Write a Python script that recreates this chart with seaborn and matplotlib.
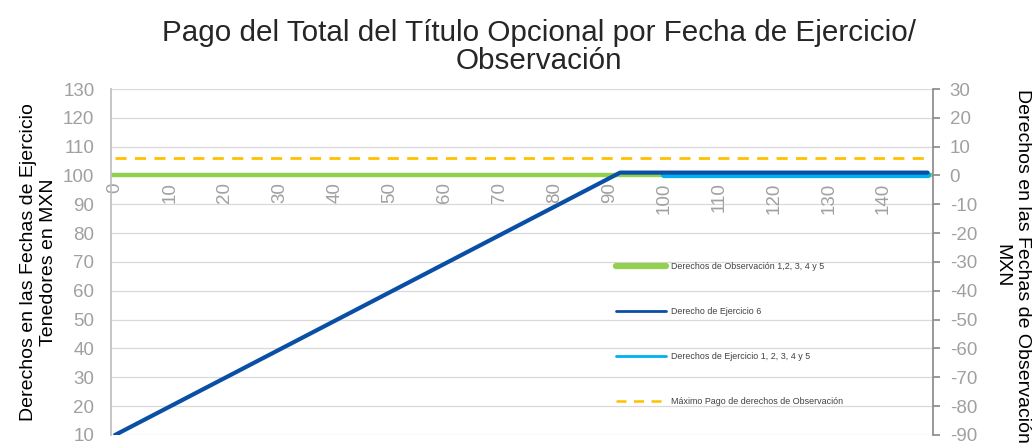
import numpy as np
import pandas as pd
import matplotlib.pyplot as plt
import seaborn as sns

sns.set_theme(style="white")
plt.rcParams['font.family'] = ['Liberation Sans', 'DejaVu Sans']
plt.rcParams['axes.unicode_minus'] = False

# fechas (eje de categorias)
x_ticks = list(range(0, 150, 10))

# Derechos de Observacion 1..5 (eje secundario)
obs_x = [-1, 150]
obs_y = [0, 0]
# Maximo pago de derechos de observacion (eje secundario)
max_x = [0, 148]
max_y = [6, 6]
# Derecho de Ejercicio 6 (eje primario)
ej6_x = [0, 92, 148]
ej6_y = [10, 101, 101]
# Derechos de Ejercicio 1..5 (eje primario)
ej15_x = [100, 148]
ej15_y = [100, 100]

left_ticks = list(range(10, 131, 10))
right_ticks = list(range(-90, 31, 10))

labels = ['Derechos de Observación 1,2, 3, 4 y 5',
          'Derecho de Ejercicio 6',
          'Derechos de Ejercicio 1, 2, 3, 4 y 5',
          'Máximo Pago de derechos de Observación']

green = '#92D050'
dblue = '#0A4FA6'
lblue = '#00B0F0'
orange = '#FFC000'
tick_gray = '#A0A0A0'

fig = plt.figure(figsize=(10.32, 4.45), dpi=100)
ax = fig.add_axes([0.1076, 0.0225, 0.7965, 0.7775])
ax2 = ax.twinx()

# secondary axis lines (drawn below)
sns.lineplot(x=obs_x, y=obs_y, ax=ax2, color=green, linewidth=3.2)
sns.lineplot(x=max_x, y=max_y, ax=ax2, color=orange, linewidth=2.0,
             linestyle=(0, (4, 3)))

# primary axis lines (on top)
sns.lineplot(x=ej15_x, y=ej15_y, ax=ax, color=lblue, linewidth=4.5,
             solid_capstyle='round')
sns.lineplot(x=ej6_x, y=ej6_y, ax=ax, color=dblue, linewidth=3.0)

ax.set_zorder(ax2.get_zorder() + 1)
ax.patch.set_visible(False)

ax.set_xlim(-0.73, 149)
ax.set_ylim(10, 130)
ax2.set_ylim(-90, 30)
ax.set_yticks(left_ticks)
ax2.set_yticks(right_ticks)
ax.set_xticks(x_ticks)
ax.set_xticklabels([str(t) for t in x_ticks])

ax2.grid(axis='y', color='#D9D9D9', linewidth=0.9)
ax2.set_axisbelow(True)

ax.spines['bottom'].set_position(('data', 100))
ax.spines['bottom'].set_color('none')
ax.spines['top'].set_visible(False)
ax2.spines['top'].set_visible(False)
ax2.spines['bottom'].set_visible(False)
ax.spines['right'].set_visible(False)
ax2.spines['left'].set_visible(False)
ax.spines['left'].set_color('#BFBFBF')
ax2.spines['right'].set_color('#8C8C8C')

ax.tick_params(axis='x', colors=tick_gray, labelsize=13.5, length=0, pad=5,
               labelrotation=90)
ax.tick_params(axis='y', colors=tick_gray, labelsize=13.5, length=0, pad=12)
ax2.tick_params(axis='y', colors=tick_gray, labelsize=13.5, length=5,
                direction='out', pad=7)
ax2.tick_params(axis='y', which='major', color='#8C8C8C')

ax.set_ylabel('Derechos en las Fechas de Ejercicio\nTenedores en MXN',
              fontsize=14, color='black', labelpad=4.5)
ax2.set_ylabel('Derechos en las Fechas de Observación\nMXN',
               fontsize=14, color='black', rotation=270, linespacing=1.25)
ax2.yaxis.set_label_coords(1012 / 1032, 1 - 266 / 445, transform=fig.transFigure)
ax2.yaxis.label.set_horizontalalignment('center')
ax2.yaxis.label.set_verticalalignment('center')
ax2.yaxis.label.set_rotation_mode('default')

fig.suptitle('Pago del Total del Título Opcional por Fecha de Ejercicio/\nObservación',
             fontsize=21.3, x=0.522, y=0.957, linespacing=1.0)

handles = [
    plt.Line2D([], [], color=green, linewidth=4.5),
    plt.Line2D([], [], color=dblue, linewidth=2.0),
    plt.Line2D([], [], color=lblue, linewidth=2.0),
    plt.Line2D([], [], color=orange, linewidth=1.8, linestyle=(0, (4, 3))),
]
leg = ax.legend(handles, labels, loc='upper left', bbox_to_anchor=(0.593, 0.422),
                bbox_transform=fig.transFigure, frameon=False, fontsize=6.4,
                handlelength=5.6, labelspacing=4.05, borderpad=0, handletextpad=0.55)
for t in leg.get_texts():
    t.set_color('#404040')

fig.savefig('out.png', dpi=100)
